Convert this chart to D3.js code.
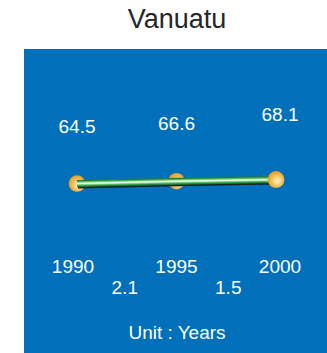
<!DOCTYPE html>
<html>
<head>
<meta charset="utf-8">
<script src="https://cdn.jsdelivr.net/npm/d3@7/dist/d3.min.js"></script>
<style>
  html, body { margin: 0; padding: 0; background: #ffffff; }
  svg { display: block; font-family: "Liberation Sans", Arial, sans-serif; }
</style>
</head>
<body>
<svg id="chart" width="327" height="353"></svg>
<script>
// Life expectancy at birth, Vanuatu
const title = "Vanuatu";
const years = [1990, 1995, 2000];
const values = [64.5, 66.6, 68.1];
const valueLabels = ["64.5", "66.6", "68.1"];
const changeLabels = ["2.1", "1.5"];
const unitLabel = "Unit : Years";

const svg = d3.select("#chart");
const W = 327, H = 353;

const defs = svg.append("defs");
const ball = defs.append("radialGradient")
  .attr("id", "ball").attr("cx", "55%").attr("cy", "55%").attr("r", "55%")
  .attr("fx", "60%").attr("fy", "60%");
ball.append("stop").attr("offset", "0%").attr("stop-color", "#fff6e0");
ball.append("stop").attr("offset", "40%").attr("stop-color", "#fbd47c");
ball.append("stop").attr("offset", "100%").attr("stop-color", "#e89a1e");

// Title
svg.append("text")
  .attr("x", 177).attr("y", 28)
  .attr("text-anchor", "middle")
  .attr("font-size", 27)
  .attr("fill", "#262626")
  .text(title);

// Blue panel
svg.append("rect")
  .attr("x", 24).attr("y", 49)
  .attr("width", W - 24).attr("height", H - 49)
  .attr("fill", "#0070ba");

const x = d3.scaleLinear().domain([1990, 2000]).range([77, 276]);
const xLab = d3.scaleLinear().domain([1990, 2000]).range([73, 280]);
const y = d3.scaleLinear().domain([20, 110]).range([233, 133]);

const pts = years.map((yr, i) => ({ yr, v: values[i] }));

// Value labels above the line
svg.append("g").selectAll("text")
  .data(pts)
  .join("text")
  .attr("x", (d, i) => i === pts.length - 1 ? xLab(d.yr) : x(d.yr))
  .attr("y", (d, i) => y(d.v) - (i === pts.length - 1 ? 59 : 51))
  .attr("text-anchor", "middle")
  .attr("font-size", 19)
  .attr("fill", "#ffffff")
  .text((d, i) => valueLabels[i]);

// Markers
svg.append("g").selectAll("circle")
  .data(pts)
  .join("circle")
  .attr("cx", d => x(d.yr))
  .attr("cy", d => y(d.v))
  .attr("r", 8.3)
  .attr("fill", "url(#ball)");

// Tube-styled line
const line = d3.line().x(d => x(d.yr)).y(d => y(d.v));
const lineG = svg.append("g");
lineG.append("path").datum(pts).attr("d", line)
  .attr("transform", "translate(1,2)")
  .attr("fill", "none").attr("stroke", "#14242a").attr("stroke-width", 6);
lineG.append("path").datum(pts).attr("d", line)
  .attr("fill", "none").attr("stroke", "#237f3a").attr("stroke-width", 7);
lineG.append("path").datum(pts).attr("d", line)
  .attr("fill", "none").attr("stroke", "#4fb95f").attr("stroke-width", 4.5);
lineG.append("path").datum(pts).attr("d", line)
  .attr("fill", "none").attr("stroke", "#a8e8a4").attr("stroke-width", 2.4);
lineG.append("path").datum(pts).attr("d", line)
  .attr("fill", "none").attr("stroke", "#f0fff0").attr("stroke-width", 1);

// Redraw the last marker on top of the line end
svg.append("circle")
  .attr("cx", x(years[2])).attr("cy", y(values[2]))
  .attr("r", 8.3).attr("fill", "url(#ball)");

// Year labels
svg.append("g").selectAll("text")
  .data(years)
  .join("text")
  .attr("x", d => xLab(d))
  .attr("y", 273)
  .attr("text-anchor", "middle")
  .attr("font-size", 19)
  .attr("fill", "#ffffff")
  .text(d => d);

// Change between consecutive years
svg.append("g").selectAll("text")
  .data(changeLabels)
  .join("text")
  .attr("x", (d, i) => (xLab(years[i]) + xLab(years[i + 1])) / 2)
  .attr("y", 294)
  .attr("text-anchor", "middle")
  .attr("font-size", 19)
  .attr("fill", "#ffffff")
  .text(d => d);

// Unit note
svg.append("text")
  .attr("x", 177).attr("y", 339)
  .attr("text-anchor", "middle")
  .attr("font-size", 19)
  .attr("fill", "#ffffff")
  .text(unitLabel);
</script>
</body>
</html>
